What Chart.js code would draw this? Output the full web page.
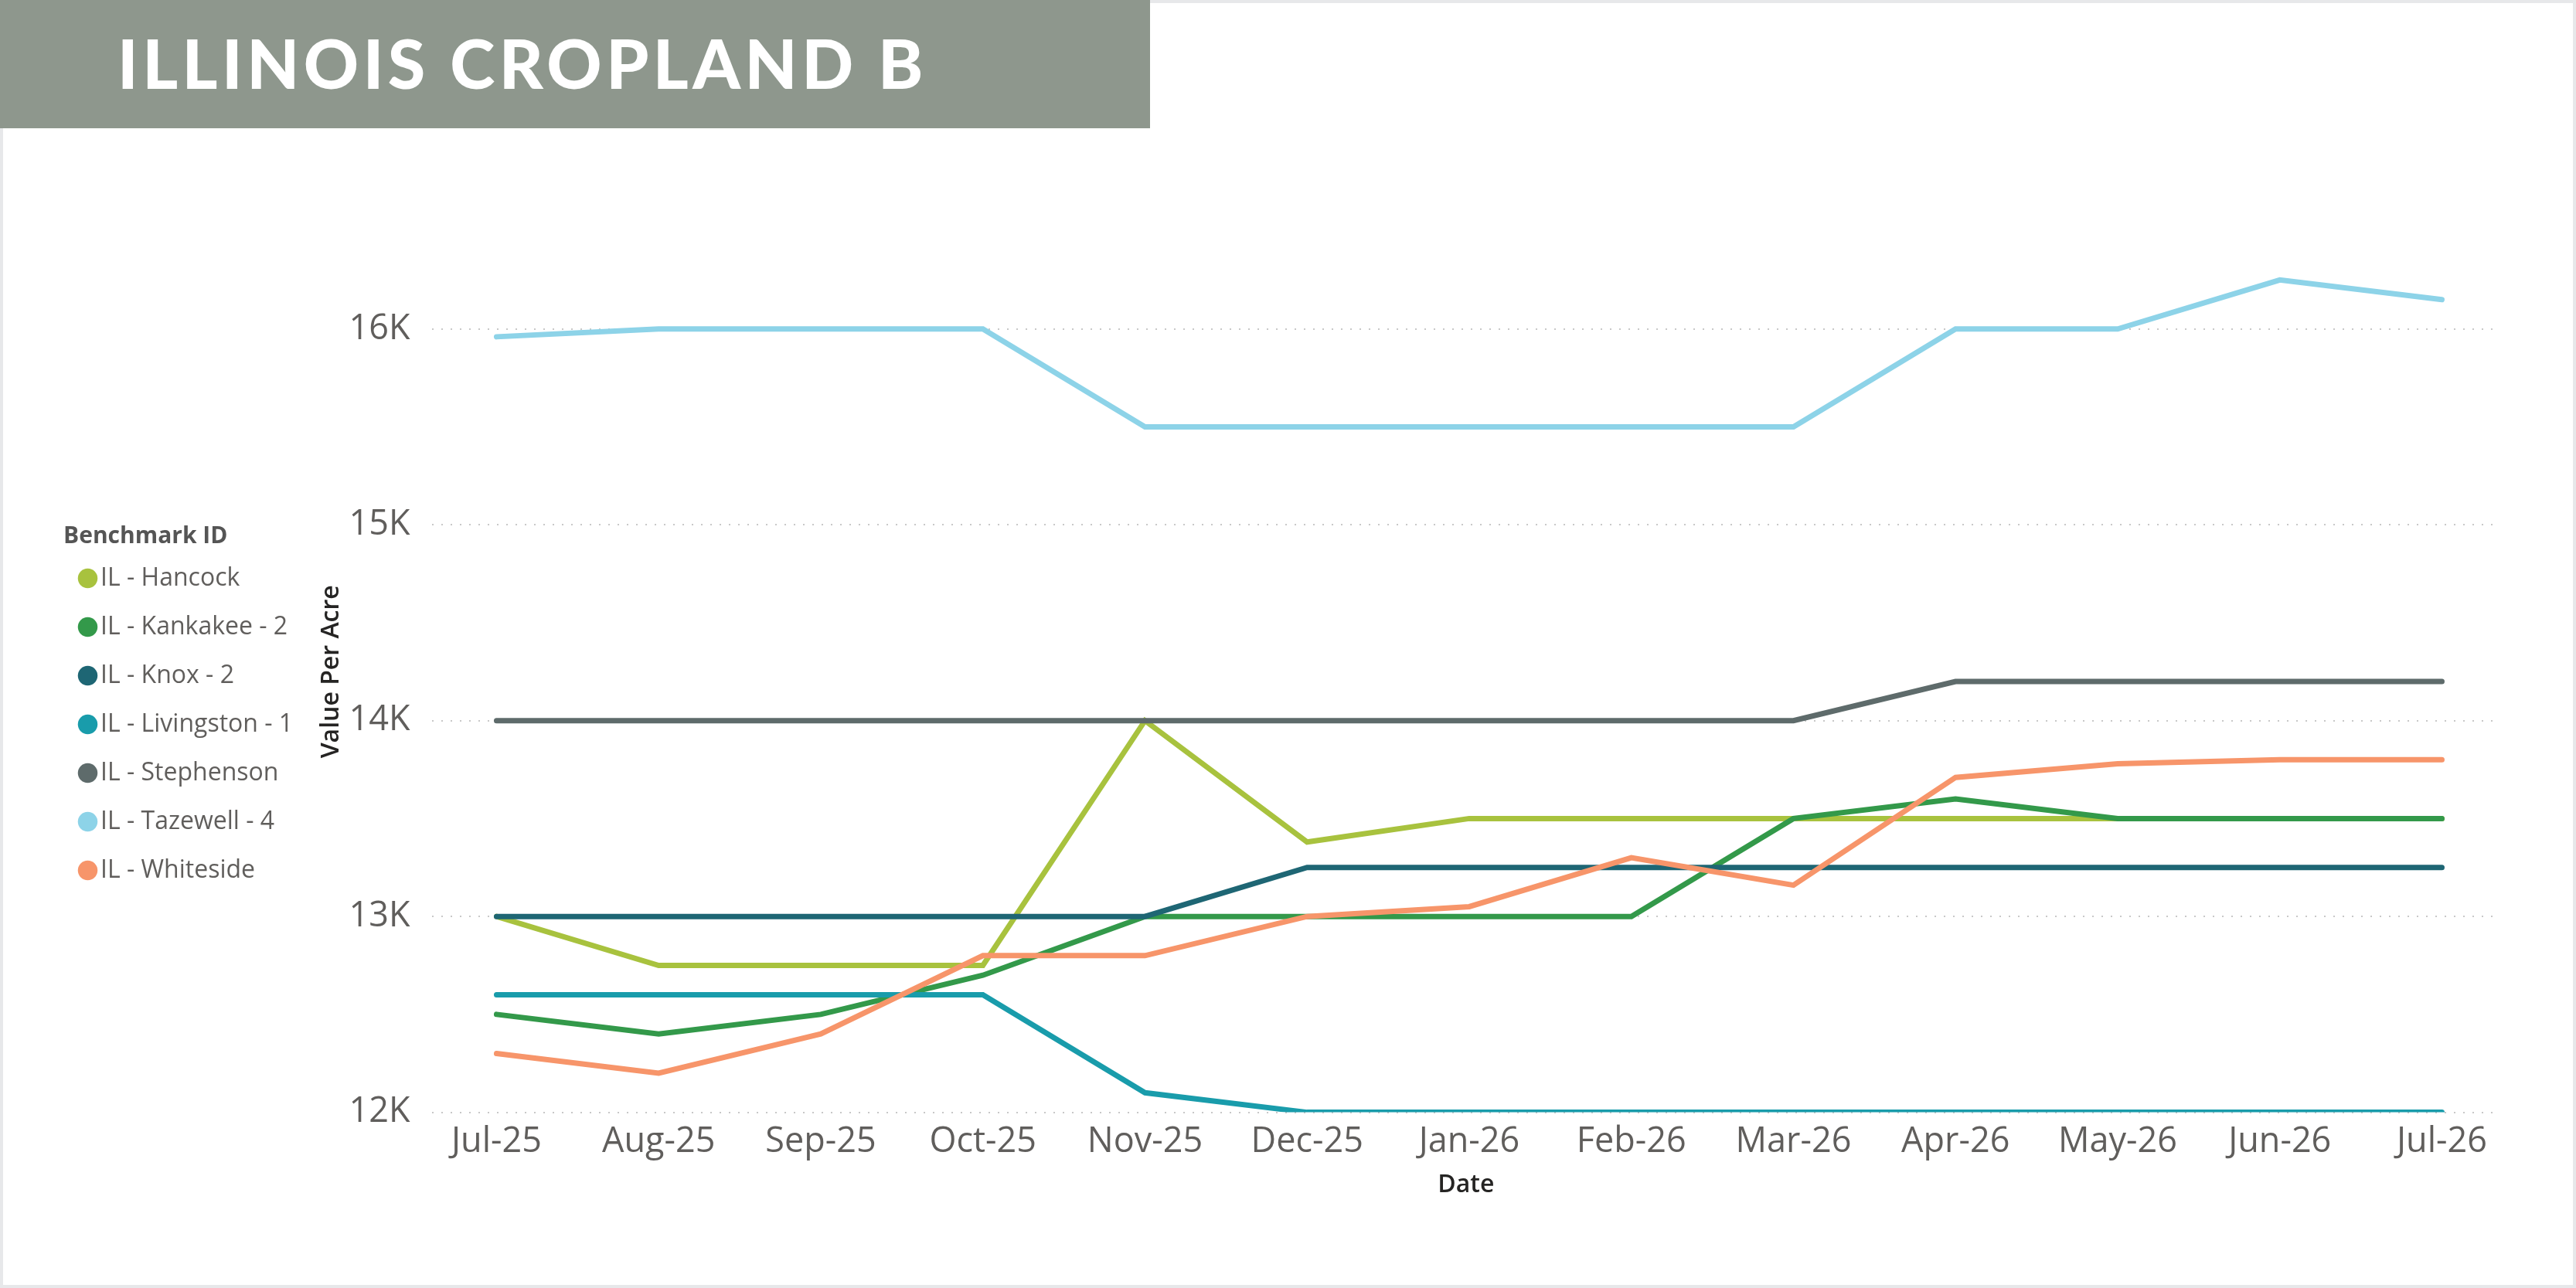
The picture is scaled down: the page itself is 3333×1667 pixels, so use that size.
<!DOCTYPE html>
<html>
<head>
<meta charset="utf-8">
<title>Illinois Cropland B</title>
<script src="https://cdn.jsdelivr.net/npm/chart.js@4.4.1/dist/chart.umd.min.js"></script>
<style>
    html, body { margin: 0; padding: 0; background: #ffffff; }
    #wrap { position: relative; width: 3333px; height: 1667px; overflow: hidden; }
    #frame { position: absolute; left: 0; top: 0; width: 3333px; height: 1667px; box-sizing: border-box;
             border: 4px solid #e7e8ea; pointer-events: none; }
    #banner { position: absolute; left: 0; top: 0; width: 1488px; height: 166px; background: #8e978d; }
    #banner span { position: absolute; left: 152px; top: 37px; line-height: 1; color: #ffffff;
                   font-family: Lato, sans-serif; font-weight: 900; font-size: 88px; letter-spacing: 5.5px; white-space: nowrap; }
    #chartBox { position: absolute; left: 0; top: 0; width: 3333px; height: 1667px; }
</style>
</head>
<body>
<div id="wrap">
    <div id="chartBox"><canvas id="lineChart"></canvas></div>
    <div id="frame"></div>
    <div id="banner"><span>ILLINOIS CROPLAND B</span></div>
</div>
<script>
// months on the x axis
const months = ["Jul-25", "Aug-25", "Sep-25", "Oct-25", "Nov-25", "Dec-25", "Jan-26",
                "Feb-26", "Mar-26", "Apr-26", "May-26", "Jun-26", "Jul-26"];

// value per acre
const hancock    = [13000, 12750, 12750, 12750, 14000, 13380, 13500, 13500, 13500, 13500, 13500, 13500, 13500];
const kankakee   = [12500, 12400, 12500, 12700, 13000, 13000, 13000, 13000, 13500, 13600, 13500, 13500, 13500];
const knox       = [13000, 13000, 13000, 13000, 13000, 13250, 13250, 13250, 13250, 13250, 13250, 13250, 13250];
const livingston = [12600, 12600, 12600, 12600, 12100, 12000, 12000, 12000, 12000, 12000, 12000, 12000, 12000];
const stephenson = [14000, 14000, 14000, 14000, 14000, 14000, 14000, 14000, 14000, 14200, 14200, 14200, 14200];
const tazewell   = [15960, 16000, 16000, 16000, 15500, 15500, 15500, 15500, 15500, 16000, 16000, 16250, 16150];
const whiteside  = [12300, 12200, 12400, 12800, 12800, 13000, 13050, 13300, 13160, 13710, 13780, 13800, 13800];

const seriesNames = ["IL - Hancock", "IL - Kankakee - 2", "IL - Knox - 2", "IL - Livingston - 1",
                     "IL - Stephenson", "IL - Tazewell - 4", "IL - Whiteside"];
const seriesValues = [hancock, kankakee, knox, livingston, stephenson, tazewell, whiteside];
const seriesColors = ["#a8c23e", "#33994a", "#1e6674", "#199cab", "#5e6b6b", "#8dd3e8", "#f7956a"];

// y axis ticks 12K .. 16K
const yTicks = [12000, 13000, 14000, 15000, 16000];

const tickFont = { family: "'Open Sans', sans-serif", size: 45 };
const titleFont = { family: "'Open Sans', sans-serif", size: 32, weight: 600 };

let datasets = [];
for (let i = 0; i < seriesNames.length; i++) {
    datasets.push({
        label: seriesNames[i],
        data: seriesValues[i].map(function (v, j) { return { x: j, y: v }; }),
        borderColor: seriesColors[i],
        backgroundColor: seriesColors[i],
        borderWidth: 7,
        borderCapStyle: 'round',
        pointRadius: 0,
        tension: 0,
        // later series are drawn on top, like the original
        order: seriesNames.length - i
    });
}

let ctx = document.getElementById('lineChart').getContext('2d');
let myChart = new Chart(ctx, {
    type: 'line',
    data: { datasets: datasets },
    options: {
        responsive: true,
        maintainAspectRatio: false,
        devicePixelRatio: 1,
        animation: false,
        layout: { padding: { left: 82, right: 98, top: 299, bottom: 113 } },
        plugins: {
            tooltip: { enabled: false },
            legend: {
                position: 'left',
                align: 'center',
                title: {
                    display: true,
                    text: 'Benchmark ID',
                    position: 'start',
                    color: '#555555',
                    font: { family: "'Open Sans', sans-serif", size: 30, weight: 'bold' },
                    padding: { top: 0, bottom: -14 }
                },
                labels: {
                    usePointStyle: true,
                    pointStyle: 'circle',
                    boxWidth: 1,
                    boxHeight: 18,
                    padding: 31,
                    color: '#605e5c',
                    font: { family: "'Open Sans', sans-serif", size: 32 },
                    sort: function (a, b) { return a.datasetIndex - b.datasetIndex; },
                    generateLabels: function (chart) {
                        let items = Chart.defaults.plugins.legend.labels.generateLabels(chart);
                        items.forEach(function (it) { it.lineWidth = 0; });
                        return items;
                    }
                }
            }
        },
        scales: {
            x: {
                type: 'linear',
                min: -0.4,
                max: 12.36,
                grid: { display: false, drawTicks: false },
                border: { display: false },
                ticks: {
                    stepSize: 1,
                    includeBounds: false,
                    autoSkip: false,
                    maxRotation: 0,
                    padding: 12,
                    color: '#605e5c',
                    font: tickFont,
                    callback: function (value) { return months[value]; }
                },
                title: { display: true, text: 'Date', color: '#252423', font: titleFont, padding: { top: -3, bottom: 1 } }
            },
            y: {
                min: 12000,
                max: 16500,
                grid: { color: '#c8c8c8', lineWidth: 2, drawTicks: false },
                border: { display: false, dash: [2, 10] },
                afterBuildTicks: function (axis) {
                    axis.ticks = yTicks.map(function (v) { return { value: v }; });
                },
                ticks: {
                    padding: 28,
                    color: '#605e5c',
                    font: tickFont,
                    callback: function (value) { return (value / 1000) + 'K'; }
                },
                title: { display: true, text: 'Value Per Acre', color: '#252423', font: titleFont, padding: { top: 21, bottom: -25 } }
            }
        }
    }
});
</script>
</body>
</html>
